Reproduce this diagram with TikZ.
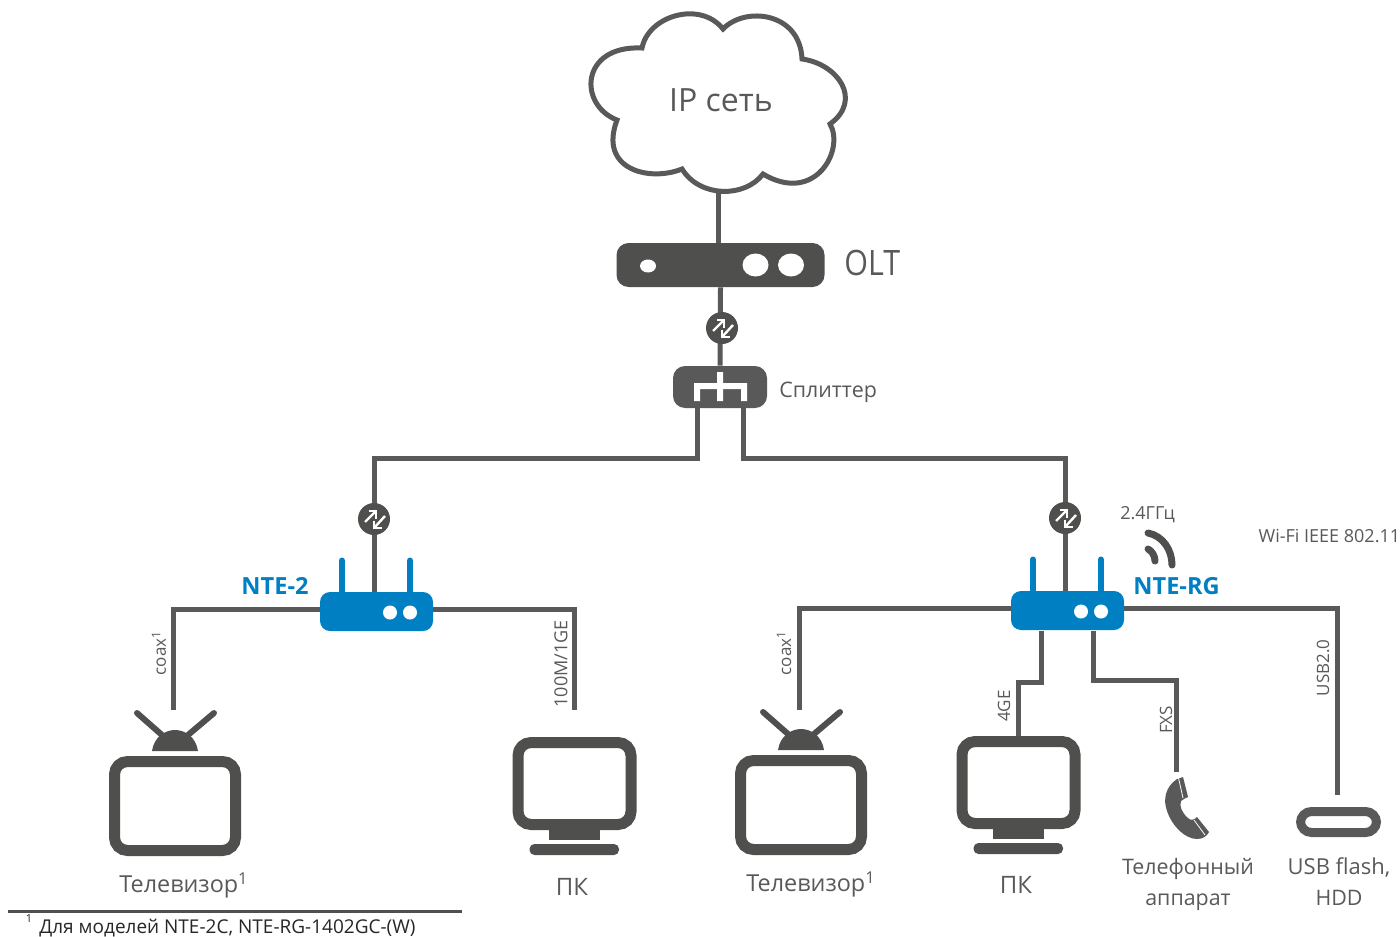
\documentclass[tikz,border=0pt]{standalone}
\usepackage{fontspec}
\setmainfont{Open Sans}
\usetikzlibrary{backgrounds}
\definecolor{wiregray}{HTML}{595959}
\definecolor{icongray}{HTML}{4F4F4D}
\definecolor{nteblue}{HTML}{0080C3}
\tikzset{
  wire/.style={draw=wiregray,line width=2.5pt},
  devbox/.style={fill=#1,inner sep=0pt,rounded corners=6pt},
  framebox/.style={draw=icongray,line width=5.5pt,inner sep=0pt,rounded corners=6.5pt},
  txt/.style={text=wiregray,inner sep=0pt,font=\fontsize{#1}{#1}\selectfont},
  sidetxt/.style={text=wiregray,inner sep=0pt,rotate=90,font=\fontsize{#1}{10}\selectfont},
  sidetxt/.default=8.5,
  bluetxt/.style={text=nteblue,inner sep=0pt,font=\fontsize{11.8}{14}\selectfont\bfseries},
  % signal converter on a line
  xcvr/.pic={
    \node[circle,fill=icongray,minimum size=16pt,inner sep=0pt] (-disc) at (0,0) {};
    \draw[white,line width=1.2pt] (-9,3) -- (2,-8);
    \draw[white,line width=1.2pt] (-5.5,-8) -- (2,-8) -- (2,-0.5);
    \draw[white,line width=1.2pt] (11,-3) -- (0,9);
    \draw[white,line width=1.2pt] (0,1.5) -- (0,9) -- (7.5,9);
  },
  % tv set
  tvset/.pic={
    \node[framebox,minimum width=60.5pt,minimum height=44.5pt] (-box) at (0,0) {};
    \fill[icongray] (-23,-55) .. controls (-21,-69) and (-10,-76) .. (0,-76)
      .. controls (10,-76) and (21,-69) .. (23,-55) -- cycle;
    \draw[icongray,line width=3pt,line cap=round] (-38,-93) -- (-13,-71);
    \draw[icongray,line width=3pt,line cap=round] (39,-93) -- (13,-71);
  },
  % computer screen
  pcset/.pic={
    \node[framebox,minimum width=56.5pt,minimum height=41pt] (-box) at (0,0) {};
    \fill[icongray] (-25.5,40) rectangle (25.5,56);
    \fill[icongray,rounded corners=2.5pt] (-45,60.5) rectangle (44.5,71.5);
  },
  % nte unit
  nteset/.pic={
    \draw[nteblue,line width=3pt,line cap=round] (-34.5,-17) -- (-34.5,-51);
    \draw[nteblue,line width=3pt,line cap=round] (33.5,-17) -- (33.5,-51);
    \node[devbox=nteblue,rounded corners=5pt,minimum width=56.5pt,minimum height=19.5pt] (-box) at (0,0) {};
    \foreach \dx in {13.5,33.5} \fill[white] (\dx,1) circle (7);
    \coordinate (-left) at (-50,-2.5);
    \coordinate (-right) at (50,-2.5);
  }
}
\begin{document}
\begin{tikzpicture}[x=0.5pt,y=-0.5pt]
  \useasboundingbox (0,0) rectangle (1400,936);
  % Draw cloud
  \draw[draw=wiregray,line width=2.5pt,line join=miter] (642,48)
    .. controls (648,16) and (700,0) .. (723,29)
    .. controls (745,6) and (800,12) .. (802,59)
    .. controls (838,64) and (863,100) .. (830,124)
    .. controls (845,150) and (815,205) .. (763,174)
    .. controls (745,198) and (700,198) .. (682,169)
    .. controls (650,182) and (598,170) .. (617,120)
    .. controls (578,105) and (580,45) .. cycle;
  \node[txt=16] (ipnet) at (721,100) {IP сеть};
  \coordinate (ipnetdown) at (718,191);
  % Draw olt and splitter
  \node[devbox=icongray,minimum width=104pt,minimum height=22pt] (olt) at (720.5,265) {};
  \coordinate (oltup) at (718,243);
  \fill[white] (648,266) ellipse [x radius=8,y radius=6.5];
  \fill[white] (755.5,265) ellipse [x radius=13,y radius=11.5];
  \fill[white] (791,265) ellipse [x radius=13,y radius=11.5];
  \node[txt=17.5,anchor=west] (oltname) at (844,262.5) {\scalebox{.87}[1]{OLT}};
  \pic (xcvrtop) at (722,328) {xcvr};
  \node[devbox=wiregray,minimum width=47pt,minimum height=21pt] (splitter) at (720,387) {};
  \fill[white] (694,383) rectangle (747,389) (694,383) rectangle (700,401)
    (741,383) rectangle (747,401) (717,372) rectangle (723,401);
  \node[txt=10.7,anchor=west] (splname) at (779,392) {Сплиттер};
  \coordinate (splitl) at (697,408);
  \coordinate (splitr) at (743.5,408);
  % Draw nte units
  \pic (ntetwo) at (376.5,611.5) {nteset};
  \pic (ntergw) at (1067.5,610.5) {nteset};
  \pic (xcvrl) at (374,519) {xcvr};
  \pic (xcvrr) at (1065,518) {xcvr};
  \node[bluetxt,anchor=east] (nametwo) at (309,586) {NTE-2};
  \node[bluetxt,anchor=west] (namergw) at (1133,586) {NTE-RG};
  \coordinate (twoup) at (374,592);
  \coordinate (rgwup) at (1065,592);
  \coordinate (bendl) at (374,458);
  \coordinate (bendr) at (1065,458);
  % Draw wifi
  \draw[icongray,line width=3.5pt,line cap=round] (1148,533) .. controls (1163,536) and (1172,550) .. (1172,565);
  \draw[icongray,line width=3.5pt,line cap=round] (1148,549) .. controls (1152,551) and (1155,556) .. (1155,561);
  \node[txt=9] (ghz) at (1147.5,514.5) {2.4ГГц};
  \node[txt=9,anchor=east] (wifiname) at (1400.5,536) {Wi-Fi IEEE 802.11};
  % Draw end devices
  \pic (tvl) at (175,806) {tvset};
  \pic (pcl) at (574.5,783.5) {pcset};
  \pic (tvr) at (801,805) {tvset};
  \pic (pcr) at (1018.5,782.5) {pcset};
  \node[txt=11.7] (tvlname) at (184,885.5) {Телевизор\textsuperscript{1}};
  \node[txt=12] (pclname) at (572,887) {ПК};
  \node[txt=11.7] (tvrname) at (811,884.5) {Телевизор\textsuperscript{1}};
  \node[txt=12] (pcrname) at (1016,885) {ПК};
  % Draw phone
  \coordinate (phone) at (1188,808);
  \fill[wiregray] (1177,779) .. controls (1165,787) and (1163,800) .. (1167,811)
    .. controls (1172,826) and (1185,839) .. (1197,839)
    .. controls (1203,839) and (1207,836) .. (1209,832)
    -- (1197,817) .. controls (1194,820) and (1191,821) .. (1188,818)
    .. controls (1182,813) and (1179,806) .. (1181,801)
    .. controls (1183,799) and (1186,798) .. (1188,797) -- (1183,777) -- cycle;
  \draw[white,line width=0.4pt] (1178.5,778) -- (1183,798);
  \draw[white,line width=0.4pt] (1194,820) -- (1205,835);
  \node[txt=10.7] (telname) at (1188,869) {Телефонный};
  \node[txt=10.7] (telnameb) at (1188,902) {аппарат};
  % Draw usb
  \node[draw=wiregray,line width=4.5pt,inner sep=0pt,rounded corners=5.5pt,
        minimum width=38pt,minimum height=10.5pt] (usb) at (1338.5,822) {};
  \node[txt=11] (usbname) at (1339,867.5) {USB flash,};
  \node[txt=10.7] (usbnameb) at (1339,898) {HDD};
  % Draw line ends
  \coordinate (tvlend) at (173,710);
  \coordinate (pclend) at (574,710);
  \coordinate (tvrend) at (799,710);
  \coordinate (pcrend) at (1018,737);
  \coordinate (telend) at (1176,772);
  \coordinate (usbend) at (1337,795);
  \coordinate (fourge) at (1041,631);
  \coordinate (fxsup) at (1093.5,631);
  \coordinate (fourgebend) at (1041,682);
  \coordinate (fxsbend) at (1093.5,680);
  % Draw links behind everything
  \begin{scope}[on background layer]
    \draw[wire] (ipnetdown) -- (oltup);
    \draw[wire] (olt.south) -- (splitter.north);
    \draw[wire] (splitl) |- (bendl) -- (twoup);
    \draw[wire] (splitr) |- (bendr) -- (rgwup);
    \draw[wire] (ntetwo-left) -| (tvlend);
    \draw[wire] (ntetwo-right) -| (pclend);
    \draw[wire] (ntergw-left) -| (tvrend);
    \draw[wire] (ntergw-right) -| (usbend);
    \draw[wire] (fourge) -- (fourgebend) -| (pcrend);
    \draw[wire] (fxsup) -- (fxsbend) -| (telend);
  \end{scope}
  % Draw line labels
  \node[sidetxt] (coaxl) at (159,653) {coax\textsuperscript{1}};
  \node[sidetxt=9] (gel) at (561,664) {100M/1GE};
  \node[sidetxt] (coaxr) at (784,653) {coax\textsuperscript{1}};
  \node[sidetxt] (ger) at (1004,706) {4GE};
  \node[sidetxt] (fxs) at (1166,720) {FXS};
  \node[sidetxt] (usbtwo) at (1323,668) {USB2.0};
  % Draw footnote
  \coordinate (rulea) at (8,911);
  \coordinate (ruleb) at (462,911);
  \draw[icongray,line width=1.5pt] (rulea) -- (ruleb);
  \node[inner sep=0pt,text=black!85,font=\fontsize{5.5}{6}\selectfont] (fnmark) at (29,919) {1};
  \node[inner sep=0pt,anchor=west,text=black!85,font=\fontsize{9.5}{11}\selectfont] (fntext) at (39,928) {Для моделей NTE-2C, NTE-RG-1402GC-(W)};
\end{tikzpicture}
\end{document}
